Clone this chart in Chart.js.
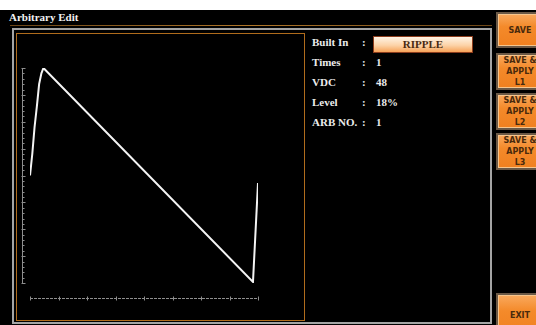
<!DOCTYPE html>
<html>
<head>
<meta charset="utf-8">
<script src="https://cdn.jsdelivr.net/npm/chart.js@4/dist/chart.umd.min.js"></script>
<style>
  html, body { margin: 0; padding: 0; background: #fff; }
  #screen { position: absolute; left: 0; top: 10px; width: 536px; height: 315px; background: #000; overflow: hidden; }
  .page { position: relative; width: 536px; height: 325px; overflow: hidden; }
  .serif { font-family: "Liberation Serif", "DejaVu Serif", serif; font-weight: bold; font-size: 11px; line-height: 12px; white-space: nowrap; }
  #title { position: absolute; left: 9px; top: 11px; color: #f2f2f2; }
  #titleLine { position: absolute; left: 10px; top: 25px; width: 482px; height: 1px;
    background: linear-gradient(to right, #6b4516, #b07628 50%, #6b4516); }
  #frame { position: absolute; left: 12px; top: 28px; width: 476px; height: 292px;
    border: 2px solid #a4a4a4; }
  #chartBox { position: absolute; left: 16px; top: 33px; width: 287px; height: 286px;
    border: 1px solid #b06c1c; background: #000; }
  #chartBox canvas { position: absolute; left: 0; top: 0; }
  .lbl { position: absolute; left: 312px; color: #ececec; }
  .colon { position: absolute; left: 362px; color: #ececec; }
  .val { position: absolute; left: 376px; color: #ececec; }
  #ripple { position: absolute; left: 373px; top: 36px; width: 98px; height: 15px;
    border: 1px solid #8c3c1c; text-align: center; line-height: 15px; color: #4a2a10;
    background: linear-gradient(to bottom, #fff4e6, #fcd3a8 55%, #f6a258); }
  .btn { position: absolute; left: 496px; width: 44px; border: 2px solid #6a5846;
    box-shadow: inset 0 0 0 1px #f7c58c;
    background: linear-gradient(to bottom, #f9a95e, #f48a2a 40%, #f08020);
    display: flex; flex-direction: column; justify-content: center; align-items: center;
    font-family: "DejaVu Sans", sans-serif; font-weight: bold; font-size: 8px; line-height: 11px;
    color: #4a2a0c; text-align: center; }
</style>
</head>
<body>
<div class="page">
  <div id="screen"></div>
  <div id="title" class="serif">Arbitrary Edit</div>
  <div id="titleLine"></div>
  <div id="frame"></div>
  <div id="chartBox"><canvas id="rippleChart" width="287" height="286"></canvas></div>
  <div id="info"></div>
  <div id="buttons"></div>
</div>
<script>
// 波形数据：时间（周期 %）与幅度（%）
const waveTime = [0, 1, 2, 3, 4, 5, 5.9, 97.8, 100];
const waveLevel = [50, 60, 72.5, 82, 92.5, 97.5, 100, 0.5, 46.5];

// 刻度
const xTickValues = [0, 12.5, 25, 37.5, 50, 62.5, 75, 87.5, 100];
const yTickValues = [0, 12.5, 25, 37.5, 50, 62.5, 75, 87.5, 100];

// 右侧参数
const infoLabels = ['Built In', 'Times', 'VDC', 'Level', 'ARB NO.'];
const infoValues = ['RIPPLE', '1', '48', '18%', '1'];

// 按键
const buttonLabels = [['SAVE'], ['SAVE &', 'APPLY', 'L1'], ['SAVE &', 'APPLY', 'L2'], ['SAVE &', 'APPLY', 'L3'], ['EXIT']];
const buttonTops = [12, 53, 93, 133, 293];
const buttonHeights = [32, 33, 33, 33, 40];

// 参数区
function buildInfo() {
    const info = document.getElementById('info');
    let html = '';
    infoLabels.forEach((label, i) => {
        const top = 36 + i * 20;
        html += `<div class="serif lbl" style="top:${top}px">${label}</div>`;
        html += `<div class="serif colon" style="top:${top}px">:</div>`;
        if (i === 0) {
            html += `<div id="ripple" class="serif">${infoValues[i]}</div>`;
        } else {
            html += `<div class="serif val" style="top:${top}px">${infoValues[i]}</div>`;
        }
    });
    info.innerHTML = html;
}

function buildButtons() {
    const box = document.getElementById('buttons');
    let html = '';
    buttonLabels.forEach((lines, i) => {
        html += `<div class="btn" style="top:${buttonTops[i]}px;height:${buttonHeights[i]}px">` +
            lines.map(t => `<div>${t}</div>`).join('') + '</div>';
    });
    box.innerHTML = html;
}

// 标尺插件：用坐标轴换算位置
const rulerPlugin = {
    id: 'rulers',
    afterDraw(chart) {
        const ctx = chart.ctx;
        const area = chart.chartArea;
        const xs = chart.scales.x;
        const ys = chart.scales.y;
        ctx.save();
        ctx.strokeStyle = '#8e8e8e';
        ctx.lineWidth = 1;

        // 纵向标尺
        const rx = Math.round(area.left - 8) + 0.5;
        ctx.beginPath();
        ctx.moveTo(rx, ys.getPixelForValue(yTickValues[0]));
        ctx.lineTo(rx, ys.getPixelForValue(yTickValues[yTickValues.length - 1]));
        yTickValues.forEach((v, i) => {
            const py = Math.round(ys.getPixelForValue(v)) + 0.5;
            ctx.moveTo(rx - 1, py);
            ctx.lineTo(rx + 3, py);
            if (i < yTickValues.length - 1) {
                const step = (yTickValues[i + 1] - v) / 5;
                for (let k = 1; k < 5; k++) {
                    const my = Math.round(ys.getPixelForValue(v + step * k)) + 0.5;
                    ctx.moveTo(rx, my);
                    ctx.lineTo(rx + 2, my);
                }
            }
        });
        ctx.stroke();

        // 横向标尺
        const ry = Math.round(area.bottom + 15) + 0.5;
        ctx.beginPath();
        ctx.setLineDash([3, 1]);
        ctx.moveTo(xs.getPixelForValue(xTickValues[0]), ry);
        ctx.lineTo(xs.getPixelForValue(xTickValues[xTickValues.length - 1]), ry);
        ctx.stroke();
        ctx.setLineDash([]);
        ctx.beginPath();
        xTickValues.forEach(v => {
            const px = Math.round(xs.getPixelForValue(v)) + 0.5;
            ctx.moveTo(px, ry - 2);
            ctx.lineTo(px, ry + 2);
        });
        ctx.stroke();
        ctx.restore();
    }
};

function renderRippleChart() {
    const canvas = document.getElementById('rippleChart');
    new Chart(canvas, {
        type: 'line',
        data: {
            datasets: [{
                data: waveTime.map((t, i) => ({ x: t, y: waveLevel[i] })),
                borderColor: '#f4f4f4',
                borderWidth: 2,
                pointRadius: 0,
                tension: 0,
                fill: false
            }]
        },
        options: {
            responsive: false,
            animation: false,
            events: [],
            layout: { padding: { left: 13, right: 46, top: 34, bottom: 37 } },
            plugins: { legend: { display: false }, tooltip: { enabled: false } },
            scales: {
                x: { type: 'linear', display: false, min: 0, max: 100 },
                y: { type: 'linear', display: false, min: 0, max: 100 }
            }
        },
        plugins: [rulerPlugin]
    });
}

buildInfo();
buildButtons();
renderRippleChart();
</script>
</body>
</html>
